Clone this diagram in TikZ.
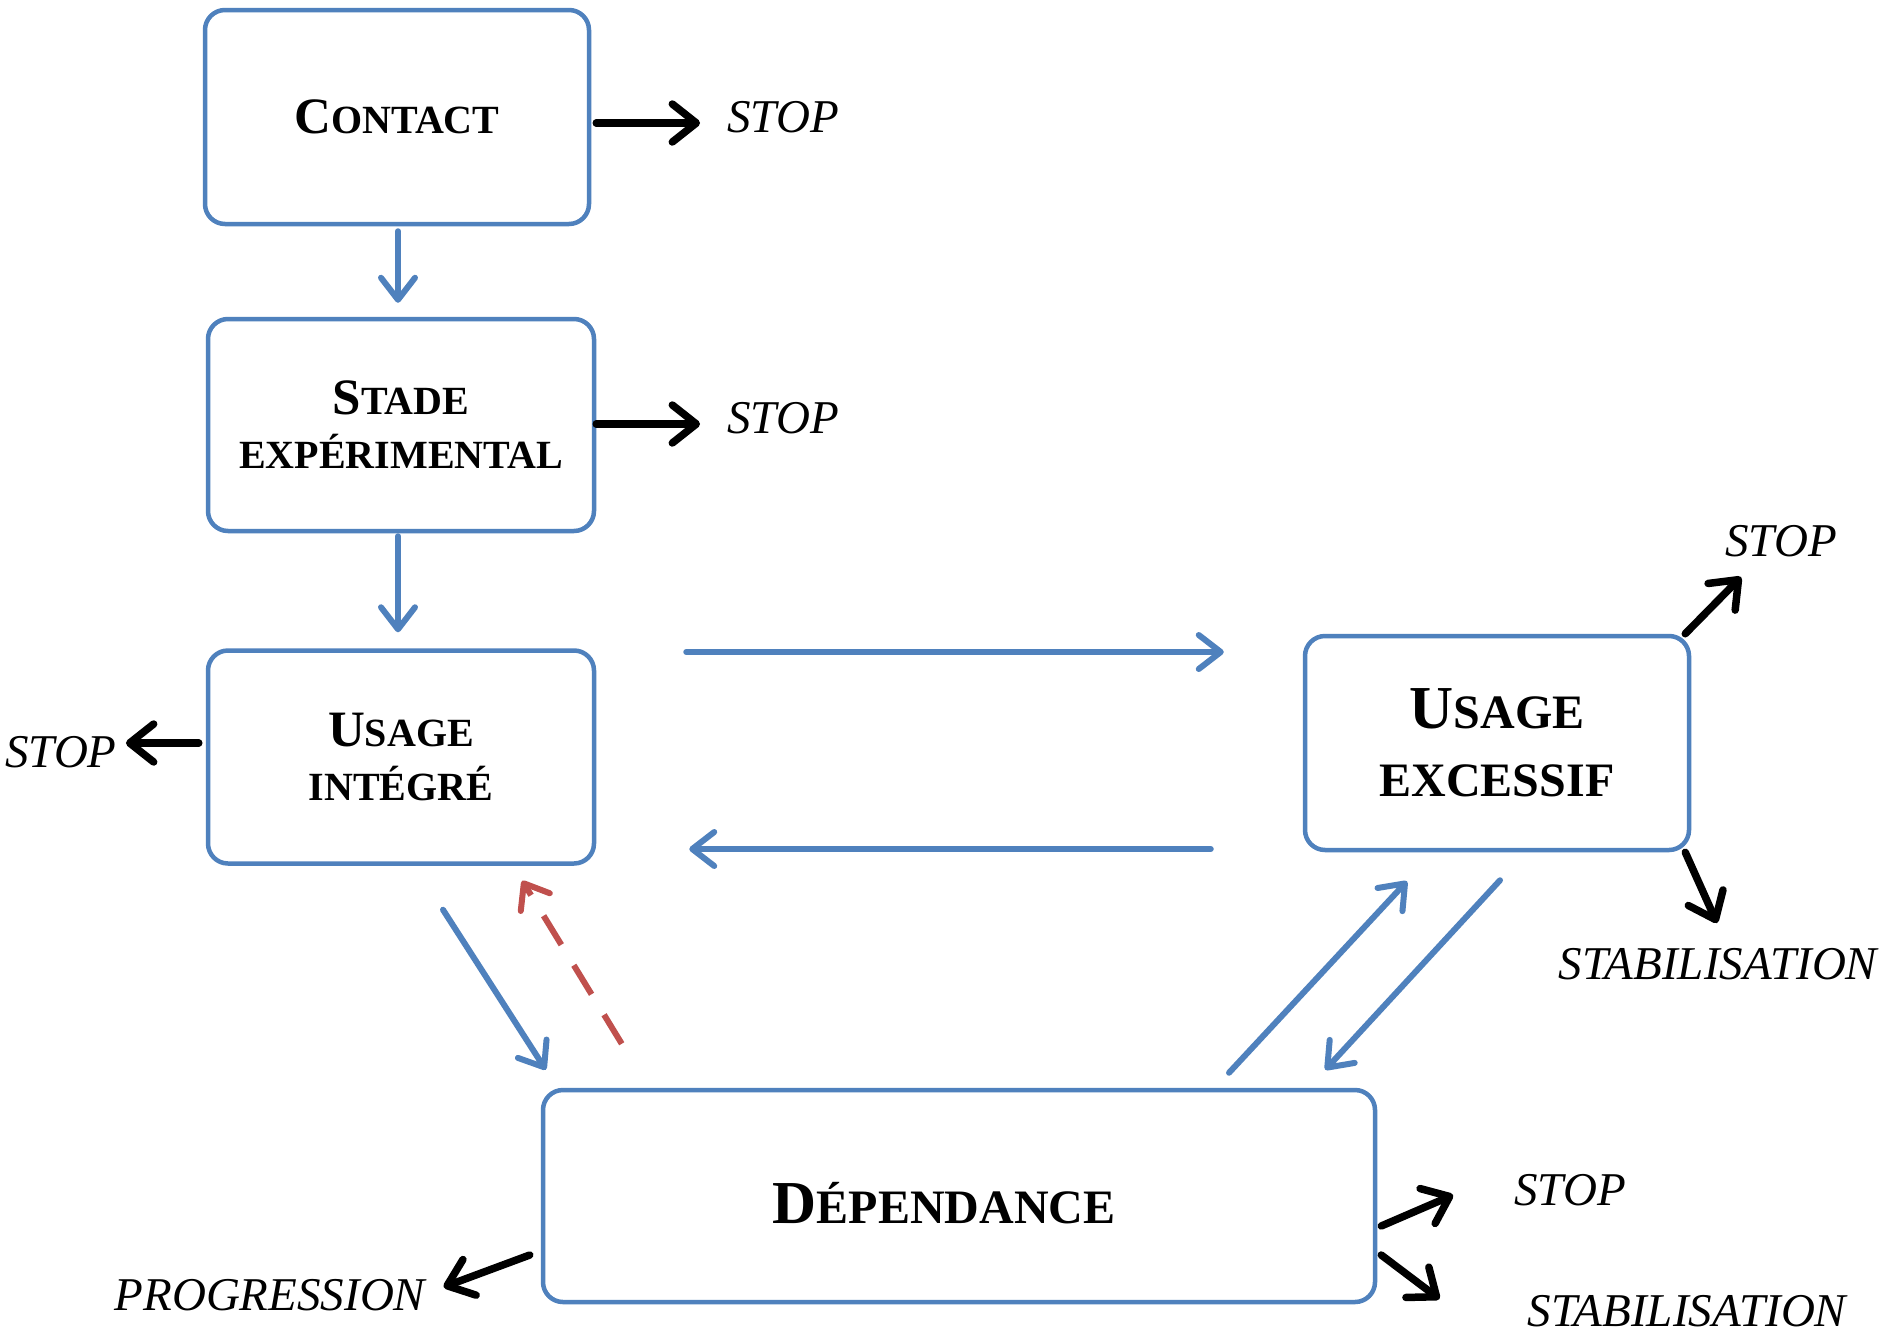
\documentclass[tikz,border=0pt]{standalone}
\usepackage{fontspec}
\setmainfont{Liberation Serif}
\usetikzlibrary{arrows.meta,calc}
\definecolor{boxblue}{HTML}{4F81BD}
\definecolor{dashred}{HTML}{C0504D}
\begin{document}
\begin{tikzpicture}[x=1pt,y=-1pt,
  box/.style={draw=boxblue, line width=4.5pt, rounded corners=20pt, fill=white, align=center, inner sep=0pt, font=\bfseries\fontsize{40}{54}\selectfont},
  bigbox/.style={box, font=\bfseries\fontsize{48}{68}\selectfont},
  lbl/.style={inner sep=0pt, font=\itshape\fontsize{47}{50}\selectfont},
  barr/.style={draw=boxblue, line width=6pt, line cap=round, -{Straight Barb[round,length=22pt,width=34pt]}},
  rarr/.style={draw=dashred, line width=6pt, dash pattern=on 34pt off 24pt, -{Straight Barb[round,length=22pt,width=34pt]}},
  karr/.style={draw=black, line width=7.5pt, line cap=round, -{Straight Barb[round,length=24pt,width=38pt]}},
]
\useasboundingbox[fill=white] (0,0) rectangle (1889,1333);

% boxes
\node[box, minimum width=384pt, minimum height=214pt] (contact) at (397,117) {{\fontsize{51}{54}\selectfont C}ONTACT};
\node[box, minimum width=386pt, minimum height=212pt] (stade) at (401,425) {{\fontsize{51}{54}\selectfont S}TADE\\EXPÉRIMENTAL};
\node[box, minimum width=386pt, minimum height=213pt] (ui) at (401,757) {{\fontsize{51}{54}\selectfont U}SAGE\\INTÉGRÉ};
\node[bigbox, minimum width=384pt, minimum height=214pt] (ue) at (1497,743) {{\fontsize{61}{68}\selectfont U}SAGE\\EXCESSIF};
\node[bigbox, minimum width=832pt, minimum height=212pt] (dep) at (959,1196) {\hspace*{-30pt}\raisebox{-7pt}[\height][\depth]{{\fontsize{61}{68}\selectfont D}ÉPENDANCE}};

% labels
\node[lbl] (stop1) at (783,117) {STOP};
\node[lbl] (stop2) at (783,418) {STOP};
\node[lbl] (stop3) at (61,752) {STOP};
\node[lbl] (stop4) at (1781,541) {STOP};
\node[lbl] (stab1) at (1718,964) {STABILISATION};
\node[lbl] (stop5) at (1570,1190) {STOP};
\node[lbl] (stab2) at (1687,1311) {STABILISATION};
\node[lbl] (prog) at (270,1295) {PROGRESSION};

% blue connectors
\draw[barr] ($(contact.south)+(1,5)$) -- ($(stade.north)+(-3,-14)$);
\draw[barr] ($(stade.south)+(-3,3)$) -- ($(ui.north)+(-3,-16)$);
\draw[barr] ($(ui.east)+(90,-105)$) -- ($(ue.west)+(-79,-91)$);
\draw[barr] ($(ue.west)+(-92,106)$) -- ($(ui.east)+(93,92)$);
\draw[barr] ($(ui.south)+(42,44)$) -- ($(dep.north west)+(5,-18)$);
\draw[barr] ($(dep.north)+(270,-15)$) -- ($(ue.south)+(-90,29)$);
\draw[barr] ($(ue.south)+(3,28)$) -- ($(dep.north east)+(-52,-18)$);
% red dashed
\draw[rarr] ($(dep.north west)+(81,-44)$) -- ($(ui.south east)+(-74,15)$);

% black connectors
\draw[karr] ($(contact.east)+(5,6)$) -- ($(stop1.west)+(-27,6)$);
\draw[karr] ($(stade.east)+(0,-1)$) -- ($(stop2.west)+(-27,6)$);
\draw[karr] ($(ui.west)+(-7,-14)$) -- ($(stop3.east)+(9,-9)$);
\draw[karr] ($(ue.north east)+(-6,0)$) -- ($(stop4.south west)+(16,20)$);
\draw[karr] ($(ue.south east)+(-6,0)$) -- ($(stab1.north)+(-1,-25)$);
\draw[karr] ($(dep.east)+(4,30)$) -- ($(stop5.west)+(-61,5)$);
\draw[karr] ($(dep.east)+(4,59)$) -- ($(stab2.west)+(-88,-12)$);
\draw[karr] ($(dep.west)+(-11,59)$) -- ($(prog.east)+(18,-8)$);
\end{tikzpicture}
\end{document}
